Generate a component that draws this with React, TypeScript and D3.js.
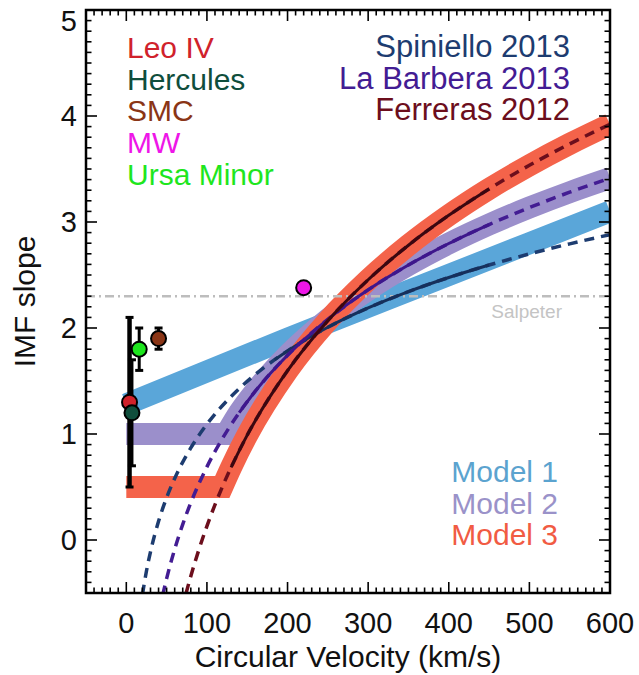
import React from "react";
import * as d3 from "d3";

// ---------- data ----------
const xTicks = [0, 100, 200, 300, 400, 500, 600];
const yTicks = [0, 1, 2, 3, 4, 5];

const galaxyNames = ["Leo IV", "Hercules", "SMC", "MW", "Ursa Minor"];
const galaxyV = [4, 7, 40, 220, 16];
const galaxySlope = [1.3, 1.2, 1.9, 2.38, 1.8];
const galaxyErrLo = [0.5, 0.7, 1.8, null, 1.6];
const galaxyErrHi = [2.1, 1.7, 2.0, null, 2.0];
const galaxyColors = ["#D0222B", "#0F4E3C", "#8A3516", "#EE16E8", "#1EE61E"];
const galaxyDrawOrder = [2, 4, 3, 0, 1];

const relationNames = ["Spiniello 2013", "La Barbera 2013", "Ferreras 2012"];
const relationColors = ["#1D3C70", "#431C93", "#6C0E1C"];
const relationSolidColors = ["#16305C", "#3E168C", "#3A0710"];

const spinV = [20, 25, 30, 40, 50, 60, 80, 100, 130, 160, 184, 200, 250, 300, 350, 400, 450, 500, 550, 600];
const spinSlope = [-0.516, -0.293, -0.111, 0.176, 0.399, 0.581, 0.869, 1.092, 1.354, 1.561, 1.701, 1.784, 2.007, 2.189, 2.343, 2.476, 2.594, 2.699, 2.794, 2.881];
const spinSolid = [184, 450];

const barberaV = [45, 50, 60, 70, 80, 100, 120, 140, 160, 200, 250, 300, 350, 400, 450, 500, 550, 600];
const barberaSlope = [-0.524, -0.364, -0.087, 0.148, 0.351, 0.69, 0.967, 1.201, 1.404, 1.743, 2.082, 2.36, 2.594, 2.797, 2.976, 3.136, 3.281, 3.413];
const barberaSolid = [140, 450];

const ferrerasV = [74, 80, 90, 100, 120, 130, 150, 200, 250, 300, 350, 400, 450, 500, 550, 600];
const ferrerasSlope = [-0.506, -0.341, -0.092, 0.131, 0.517, 0.686, 0.989, 1.597, 2.069, 2.455, 2.781, 3.063, 3.312, 3.535, 3.737, 3.921];
const ferrerasSolid = [130, 450];

const modelNames = ["Model 1", "Model 2", "Model 3"];
const modelColors = ["#5AA6D9", "#9B8FCB", "#F4634A"];
const modelTextColors = ["#5BA3CF", "#9A92C9", "#F15B43"];

const model1V = [0, 200, 400, 600];
const model1Slope = [1.28, 1.9, 2.5, 3.1];
const model1Kink = 0;

const model2V = [0, 124, 140, 160, 200, 250, 300, 350, 400, 450, 500, 550, 600];
const model2Slope = [1.0, 1.0, 1.201, 1.404, 1.743, 2.082, 2.36, 2.594, 2.797, 2.976, 3.136, 3.281, 3.413];
const model2Kink = 1;

const model3V = [0, 119, 130, 150, 200, 250, 300, 350, 400, 450, 500, 550, 600];
const model3Slope = [0.5, 0.5, 0.686, 0.989, 1.597, 2.069, 2.455, 2.781, 3.063, 3.312, 3.535, 3.737, 3.921];
const model3Kink = 1;

const salpeterSlope = 2.3;

// ---------- layout ----------
const W = 639;
const H = 675;
const L = 86;
const R = 610;
const T = 10;
const B = 593;
const FONT = "'Liberation Sans', Arial, Helvetica, sans-serif";

export default function App() {
  const x = d3.scaleLinear().domain([-50, 600]).range([L, R]);
  const y = d3.scaleLinear().domain([-0.5, 5]).range([B, T]);

  const mono = d3
    .line<[number, number]>()
    .x((d) => x(d[0]))
    .y((d) => y(d[1]))
    .curve(d3.curveMonotoneX);

  const zip = (vs: number[], ss: number[]) => vs.map((v, i) => [v, ss[i]] as [number, number]);

  const bandPath = (vs: number[], ss: number[], kink: number) => {
    const pts = zip(vs, ss);
    const rest = mono(pts.slice(kink)) || "";
    if (kink === 0) return rest;
    return `M${x(pts[0][0])},${y(pts[0][1])}L` + rest.slice(1);
  };

  const relations = [
    { v: spinV, s: spinSlope, solid: spinSolid },
    { v: barberaV, s: barberaSlope, solid: barberaSolid },
    { v: ferrerasV, s: ferrerasSlope, solid: ferrerasSolid },
  ];

  const models = [
    { v: model1V, s: model1Slope, k: model1Kink },
    { v: model2V, s: model2Slope, k: model2Kink },
    { v: model3V, s: model3Slope, k: model3Kink },
  ];

  const xMinor = d3.range(-50, 601, 10).filter((v) => v % 100 !== 0);
  const yMinor = d3.range(-0.5, 5.001, 0.1).map((v) => Math.round(v * 10) / 10).filter((v) => Math.abs(v - Math.round(v)) > 1e-6);

  const MAJ = 11;
  const MIN = 5.5;

  return (
    <svg
      width={W}
      height={H}
      style={{ position: "absolute", left: 0, top: 0, display: "block", background: "#fff" }}
      fontFamily={FONT}
    >
      <defs>
        <clipPath id="plot">
          <rect x={L} y={T} width={R - L} height={B - T} />
        </clipPath>
      </defs>
      <rect x={0} y={0} width={W} height={H} fill="#fff" />

      <g clipPath="url(#plot)">
        {/* model bands */}
        {models.map((m, i) => (
          <path
            key={"m" + i}
            d={bandPath(m.v, m.s, m.k)}
            fill="none"
            stroke={modelColors[i]}
            strokeWidth={22}
            strokeLinejoin="miter"
            strokeLinecap="butt"
          />
        ))}

        {/* Salpeter */}
        <line
          x1={L}
          x2={R}
          y1={y(salpeterSlope)}
          y2={y(salpeterSlope)}
          stroke="#BDBDBD"
          strokeWidth={2.5}
          strokeDasharray="9 4 2 4"
        />

        {/* literature relations */}
        {relations.map((r, i) => {
          const pts = zip(r.v, r.s);
          const solid = pts.filter((p) => p[0] >= r.solid[0] && p[0] <= r.solid[1]);
          return (
            <g key={"r" + i}>
              <path
                d={mono(pts) || ""}
                fill="none"
                stroke={relationColors[i]}
                strokeWidth={3.5}
                strokeDasharray="10 7"
              />
              <path
                d={mono(solid) || ""}
                fill="none"
                stroke={relationSolidColors[i]}
                strokeWidth={3}
              />
            </g>
          );
        })}
      </g>

      {/* error bars */}
      {galaxyNames.map((n, i) =>
        galaxyErrLo[i] == null ? null : (
          <g key={"e" + i} stroke="#000">
            <line
              x1={x(galaxyV[i])}
              x2={x(galaxyV[i])}
              y1={y(galaxyErrLo[i] as number)}
              y2={y(galaxyErrHi[i] as number)}
              strokeWidth={i === 0 ? 4.5 : 3}
            />
            <line
              x1={x(galaxyV[i]) - 4}
              x2={x(galaxyV[i]) + 4}
              y1={y(galaxyErrLo[i] as number)}
              y2={y(galaxyErrLo[i] as number)}
              strokeWidth={3}
            />
            <line
              x1={x(galaxyV[i]) - 4}
              x2={x(galaxyV[i]) + 4}
              y1={y(galaxyErrHi[i] as number)}
              y2={y(galaxyErrHi[i] as number)}
              strokeWidth={3}
            />
          </g>
        )
      )}

      {/* markers */}
      {galaxyDrawOrder.map((i) => (
        <circle
          key={"c" + i}
          cx={x(galaxyV[i])}
          cy={y(galaxySlope[i])}
          r={7.5}
          fill={galaxyColors[i]}
          stroke="#000"
          strokeWidth={2}
        />
      ))}

      {/* ticks */}
      <g stroke="#000" strokeWidth={1.6}>
        {xTicks.map((t) => (
          <g key={"xt" + t}>
            <line x1={x(t)} x2={x(t)} y1={B} y2={B - MAJ} />
            <line x1={x(t)} x2={x(t)} y1={T} y2={T + MAJ} />
          </g>
        ))}
        {xMinor.map((t) => (
          <g key={"xm" + t}>
            <line x1={x(t)} x2={x(t)} y1={B} y2={B - MIN} />
            <line x1={x(t)} x2={x(t)} y1={T} y2={T + MIN} />
          </g>
        ))}
        {yTicks.map((t) => (
          <g key={"yt" + t}>
            <line x1={L} x2={L + MAJ} y1={y(t)} y2={y(t)} />
            <line x1={R} x2={R - MAJ} y1={y(t)} y2={y(t)} />
          </g>
        ))}
        {yMinor.map((t) => (
          <g key={"ym" + t}>
            <line x1={L} x2={L + MIN} y1={y(t)} y2={y(t)} />
            <line x1={R} x2={R - MIN} y1={y(t)} y2={y(t)} />
          </g>
        ))}
      </g>

      {/* frame */}
      <rect x={L} y={T} width={R - L} height={B - T} fill="none" stroke="#000" strokeWidth={2.5} />

      {/* tick labels */}
      {xTicks.map((t) => (
        <text key={"xl" + t} x={x(t)} y={633} textAnchor="middle" fontSize={29} fill="#111">
          {t}
        </text>
      ))}
      {yTicks.map((t) => (
        <text
          key={"yl" + t}
          x={77}
          y={Math.max(y(t), T + 11) + 10}
          textAnchor="end"
          fontSize={29}
          fill="#111"
        >
          {t}
        </text>
      ))}

      {/* axis titles */}
      <text x={(L + R) / 2} y={667} textAnchor="middle" fontSize={30} fill="#111">
        Circular Velocity (km/s)
      </text>
      <text
        transform={`translate(35,${(T + B) / 2}) rotate(-90)`}
        textAnchor="middle"
        fontSize={30}
        fill="#111"
      >
        IMF slope
      </text>

      {/* Salpeter label */}
      <text x={562} y={318} textAnchor="end" fontSize={19} fill="#C4C4C4">
        Salpeter
      </text>

      {/* galaxy legend */}
      {galaxyNames.map((n, i) => (
        <text key={"gl" + i} x={127} y={58 + i * 31.7} fontSize={30} fill={galaxyColors[i]}>
          {n}
        </text>
      ))}

      {/* relation legend */}
      {relationNames.map((n, i) => (
        <text key={"rl" + i} x={570} y={57 + i * 31.5} textAnchor="end" fontSize={31} fill={relationColors[i]}>
          {n}
        </text>
      ))}

      {/* model legend */}
      {modelNames.map((n, i) => (
        <text key={"ml" + i} x={558} y={482 + i * 31.5} textAnchor="end" fontSize={30} fill={modelTextColors[i]}>
          {n}
        </text>
      ))}
    </svg>
  );
}
